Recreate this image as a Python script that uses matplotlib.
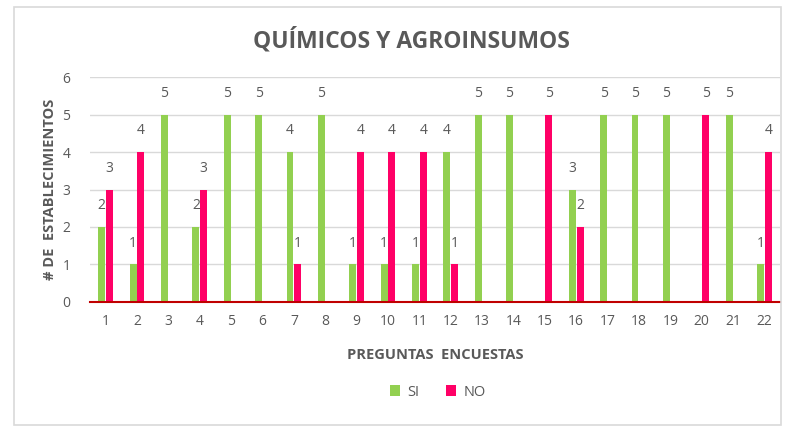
import numpy as np
import matplotlib.pyplot as plt
from matplotlib.patches import Rectangle

preguntas = [str(i) for i in range(1, 23)]
si = [2, 1, 5, 2, 5, 5, 4, 5, 1, 1, 1, 4, 5, 5, 0, 3, 5, 5, 5, 0, 5, 1]
no = [3, 4, 0, 3, 0, 0, 1, 0, 4, 4, 4, 1, 0, 0, 5, 2, 0, 0, 0, 5, 0, 4]

verde = '#92D050'
rosa = '#FF0066'
gris = '#595959'

plt.rcParams['font.family'] = ['Open Sans', 'DejaVu Sans']

fig = plt.figure(figsize=(7.92, 4.30), dpi=100)
ax = fig.add_axes([0.1136, 0.2977, 0.8714, 0.5232])

# marco del grafico
fig.patches.append(Rectangle((14 / 792, 5 / 430), 767 / 792, 418 / 430,
                             transform=fig.transFigure, fill=False,
                             edgecolor='#D9D9D9', linewidth=1.2))

x = np.arange(1, len(preguntas) + 1)
w = 0.22
b1 = ax.bar(x - 0.125, si, w, color=verde, label='SI', zorder=3)
b2 = ax.bar(x + 0.125, no, w, color=rosa, label='NO', zorder=3)

for bars, vals in [(b1, si), (b2, no)]:
    for r, v in zip(bars, vals):
        if v > 0:
            ax.annotate(str(v), (r.get_x() + r.get_width() / 2, v),
                        xytext=(0, 10), textcoords='offset points',
                        ha='center', va='bottom', fontsize=10, color=gris)

ax.set_xlim(0.5, 22.5)
ax.set_ylim(0, 6)
ax.set_xticks(x)
ax.set_xticklabels(preguntas)
ax.set_yticks(range(0, 7))
ax.tick_params(length=0, labelsize=10, labelcolor=gris)
ax.tick_params(axis='x', pad=9)
ax.tick_params(axis='y', pad=14)
ax.grid(axis='y', color='#D9D9D9', linewidth=1, zorder=0)
for s in ['top', 'right', 'left']:
    ax.spines[s].set_visible(False)
ax.spines['bottom'].set_color('#C00000')
ax.spines['bottom'].set_linewidth(1.5)
ax.spines['bottom'].set_zorder(4)

fig.text(0.519, 0.905, 'QUÍMICOS Y AGROINSUMOS', ha='center', va='center',
         fontsize=16.5, fontweight='bold', color=gris)
ax.set_ylabel('# DE  ESTABLECIMIENTOS', fontsize=10.5, fontweight='bold',
              color=gris, labelpad=4)
ax.set_xlabel('PREGUNTAS  ENCUESTAS', fontsize=10.5, fontweight='bold',
              color=gris, labelpad=13)

fig.legend(handles=[b1, b2], loc='center', bbox_to_anchor=(0.553, 0.088),
           ncol=2, frameon=False, fontsize=10.5, labelcolor=gris,
           handlelength=0.7, handleheight=0.7, handletextpad=0.5,
           columnspacing=1.8)

fig.savefig('out.png', dpi=100)
